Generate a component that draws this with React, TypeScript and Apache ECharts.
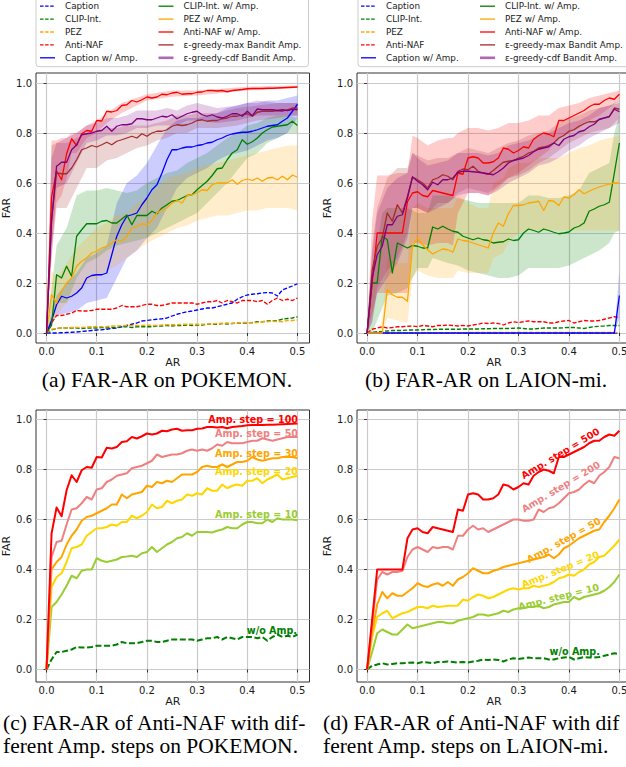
import React, { useEffect, useRef } from "react";
import * as echarts from "echarts";

// ---------- sample grid & ticks ----------
const AR: number[] = Array.from({ length: 51 }, (_, i) => i / 100);
const X_TICKS = [0, 0.1, 0.2, 0.3, 0.4, 0.5];
const Y_TICKS = [0, 0.2, 0.4, 0.6, 0.8, 1.0];

// ---------- POKEMON (panel a / c) ----------
const POK_CAPTION = [0, 0, 0, 0.001, 0.002, 0.003, 0.004, 0.006, 0.008, 0.01,
  0.012, 0.013, 0.015, 0.018, 0.02, 0.025, 0.03, 0.035, 0.04, 0.048,
  0.05, 0.053, 0.055, 0.057, 0.06, 0.068, 0.075, 0.08, 0.085, 0.088,
  0.092, 0.096, 0.1, 0.1, 0.105, 0.11, 0.115, 0.12, 0.135, 0.145,
  0.152, 0.155, 0.157, 0.16, 0.162, 0.16, 0.148, 0.172, 0.18, 0.188, 0.197];
const POK_CLIP = [0, 0.012, 0.018, 0.02, 0.02, 0.02, 0.02, 0.018, 0.02, 0.02,
  0.02, 0.022, 0.02, 0.022, 0.022, 0.025, 0.025, 0.022, 0.025, 0.025,
  0.025, 0.025, 0.028, 0.028, 0.03, 0.028, 0.03, 0.03, 0.032, 0.03,
  0.032, 0.032, 0.035, 0.035, 0.035, 0.038, 0.036, 0.038, 0.04, 0.04,
  0.04, 0.042, 0.045, 0.045, 0.048, 0.048, 0.05, 0.055, 0.058, 0.06, 0.065];
const POK_PEZ = [0, 0.015, 0.018, 0.02, 0.02, 0.022, 0.022, 0.022, 0.024, 0.025,
  0.026, 0.025, 0.026, 0.028, 0.028, 0.03, 0.03, 0.03, 0.03, 0.03,
  0.032, 0.03, 0.03, 0.032, 0.033, 0.033, 0.033, 0.035, 0.035, 0.035,
  0.035, 0.035, 0.036, 0.036, 0.038, 0.038, 0.04, 0.038, 0.04, 0.042,
  0.042, 0.04, 0.042, 0.045, 0.045, 0.047, 0.046, 0.045, 0.05, 0.05, 0.052];
// Anti-NAF without amplification (= "w/o Amp." in panel c)
const POK_NOAMP = [0, 0.04, 0.07, 0.07, 0.075, 0.08, 0.09, 0.088, 0.088, 0.09,
  0.095, 0.095, 0.095, 0.095, 0.1, 0.11, 0.105, 0.105, 0.105, 0.11,
  0.115, 0.115, 0.11, 0.11, 0.115, 0.12, 0.12, 0.12, 0.12, 0.12,
  0.115, 0.12, 0.125, 0.125, 0.13, 0.12, 0.13, 0.125, 0.12, 0.13,
  0.13, 0.13, 0.125, 0.13, 0.115, 0.13, 0.14, 0.13, 0.135, 0.13, 0.14];
const POK_CAPTION_AMP = [0, 0.05, 0.113, 0.147, 0.14, 0.147, 0.16, 0.18, 0.22, 0.23,
  0.233, 0.233, 0.24, 0.313, 0.387, 0.433, 0.467, 0.473, 0.48, 0.513,
  0.54, 0.573, 0.593, 0.64, 0.693, 0.733, 0.733, 0.74, 0.744, 0.744,
  0.75, 0.753, 0.76, 0.763, 0.773, 0.78, 0.79, 0.796, 0.8, 0.803,
  0.803, 0.807, 0.813, 0.82, 0.827, 0.83, 0.833, 0.847, 0.86, 0.887, 0.915];
const POK_CLIP_AMP = [0, 0.03, 0.233, 0.22, 0.267, 0.227, 0.387, 0.413, 0.437, 0.437,
  0.437, 0.447, 0.45, 0.44, 0.44, 0.456, 0.472, 0.433, 0.47, 0.47,
  0.47, 0.487, 0.477, 0.5, 0.513, 0.527, 0.53, 0.54, 0.55, 0.553,
  0.573, 0.59, 0.607, 0.63, 0.657, 0.66, 0.693, 0.72, 0.733, 0.773,
  0.755, 0.765, 0.78, 0.8, 0.813, 0.824, 0.827, 0.83, 0.833, 0.847, 0.83];
const POK_PEZ_AMP = [0, 0.153, 0.12, 0.167, 0.2, 0.22, 0.267, 0.287, 0.3, 0.32,
  0.327, 0.34, 0.347, 0.36, 0.373, 0.367, 0.387, 0.42, 0.427, 0.437,
  0.433, 0.45, 0.48, 0.493, 0.5, 0.52, 0.53, 0.52, 0.55, 0.553,
  0.56, 0.573, 0.57, 0.593, 0.6, 0.6, 0.6, 0.613, 0.595, 0.61,
  0.616, 0.61, 0.62, 0.607, 0.62, 0.622, 0.613, 0.627, 0.613, 0.632, 0.623];
// Anti-NAF with Amp. (= "Amp. step = 100" in panel c)
const POK_AMP100 = [0, 0.544, 0.648, 0.613, 0.717, 0.777, 0.75, 0.797, 0.81, 0.807,
  0.85, 0.848, 0.887, 0.884, 0.89, 0.91, 0.913, 0.93, 0.924, 0.933,
  0.944, 0.94, 0.944, 0.955, 0.953, 0.96, 0.963, 0.955, 0.957, 0.957,
  0.963, 0.964, 0.97, 0.97, 0.968, 0.97, 0.965, 0.97, 0.972, 0.974,
  0.977, 0.978, 0.978, 0.978, 0.979, 0.979, 0.98, 0.981, 0.982, 0.983, 0.984];
const POK_EPS_MAX = [0, 0.45, 0.64, 0.637, 0.637, 0.66, 0.693, 0.733, 0.74, 0.75,
  0.744, 0.753, 0.763, 0.753, 0.767, 0.773, 0.78, 0.787, 0.78, 0.797,
  0.787, 0.8, 0.807, 0.807, 0.813, 0.827, 0.833, 0.83, 0.833, 0.84,
  0.85, 0.853, 0.847, 0.85, 0.85, 0.857, 0.86, 0.867, 0.867, 0.873,
  0.877, 0.867, 0.883, 0.887, 0.887, 0.887, 0.89, 0.887, 0.893, 0.9, 0.9];
const POK_EPS_CDF = [0, 0.45, 0.667, 0.683, 0.683, 0.733, 0.753, 0.793, 0.797, 0.8,
  0.807, 0.81, 0.827, 0.807, 0.827, 0.833, 0.833, 0.837, 0.857, 0.857,
  0.853, 0.853, 0.86, 0.867, 0.864, 0.873, 0.857, 0.867, 0.877, 0.883,
  0.887, 0.873, 0.867, 0.873, 0.864, 0.86, 0.867, 0.877, 0.877, 0.867,
  0.887, 0.869, 0.896, 0.893, 0.893, 0.893, 0.89, 0.893, 0.89, 0.895, 0.893];
const POK_AMP50 = [0, 0.45, 0.51, 0.515, 0.58, 0.64, 0.645, 0.665, 0.69, 0.68,
  0.72, 0.725, 0.75, 0.76, 0.775, 0.78, 0.785, 0.805, 0.81, 0.815,
  0.825, 0.835, 0.86, 0.85, 0.855, 0.86, 0.86, 0.865, 0.875, 0.88,
  0.875, 0.88, 0.875, 0.885, 0.9, 0.895, 0.91, 0.905, 0.905, 0.905,
  0.91, 0.915, 0.915, 0.925, 0.92, 0.915, 0.92, 0.925, 0.93, 0.93, 0.93];
const POK_AMP30 = [0, 0.4, 0.43, 0.45, 0.5, 0.535, 0.56, 0.595, 0.61, 0.615,
  0.625, 0.635, 0.645, 0.66, 0.66, 0.7, 0.685, 0.7, 0.705, 0.71,
  0.735, 0.73, 0.75, 0.745, 0.755, 0.75, 0.765, 0.78, 0.78, 0.78,
  0.79, 0.81, 0.815, 0.81, 0.81, 0.82, 0.81, 0.82, 0.83, 0.83,
  0.835, 0.85, 0.84, 0.835, 0.84, 0.845, 0.845, 0.85, 0.85, 0.85, 0.845];
const POK_AMP20 = [0, 0.33, 0.37, 0.385, 0.43, 0.485, 0.49, 0.5, 0.535, 0.55,
  0.565, 0.565, 0.57, 0.58, 0.575, 0.59, 0.59, 0.615, 0.605, 0.615,
  0.63, 0.66, 0.645, 0.65, 0.675, 0.665, 0.675, 0.68, 0.7, 0.695,
  0.705, 0.7, 0.725, 0.715, 0.715, 0.74, 0.725, 0.735, 0.74, 0.735,
  0.755, 0.755, 0.765, 0.745, 0.76, 0.77, 0.78, 0.76, 0.765, 0.77, 0.775];
const POK_AMP10 = [0, 0.25, 0.27, 0.3, 0.335, 0.375, 0.365, 0.395, 0.4, 0.4,
  0.445, 0.435, 0.43, 0.435, 0.44, 0.45, 0.452, 0.455, 0.45, 0.465,
  0.47, 0.49, 0.47, 0.485, 0.5, 0.51, 0.525, 0.53, 0.545, 0.535,
  0.55, 0.55, 0.55, 0.548, 0.555, 0.56, 0.57, 0.565, 0.565, 0.58,
  0.59, 0.59, 0.585, 0.585, 0.6, 0.59, 0.605, 0.6, 0.6, 0.6, 0.597];

// bands [AR, low, high] for panel a
const POK_BAND_CAPTION = [[0, 0, 0], [0.02, 0.07, 0.15], [0.04, 0.08, 0.2], [0.06, 0.09, 0.24], [0.08, 0.12, 0.3], [0.1, 0.13, 0.32], [0.12, 0.14, 0.35], [0.14, 0.22, 0.52], [0.16, 0.3, 0.6], [0.18, 0.33, 0.63], [0.2, 0.38, 0.68], [0.22, 0.42, 0.75], [0.24, 0.5, 0.82], [0.26, 0.58, 0.85], [0.28, 0.62, 0.86], [0.3, 0.64, 0.86], [0.32, 0.66, 0.87], [0.34, 0.69, 0.88], [0.36, 0.71, 0.9], [0.38, 0.72, 0.91], [0.4, 0.73, 0.92], [0.42, 0.75, 0.92], [0.44, 0.77, 0.93], [0.46, 0.78, 0.93], [0.48, 0.8, 0.94], [0.5, 0.86, 0.95]];
const POK_BAND_CLIP = [[0, 0, 0], [0.02, 0.12, 0.35], [0.04, 0.12, 0.42], [0.06, 0.22, 0.55], [0.08, 0.28, 0.57], [0.1, 0.3, 0.57], [0.12, 0.33, 0.58], [0.14, 0.35, 0.57], [0.16, 0.36, 0.56], [0.18, 0.37, 0.57], [0.2, 0.38, 0.6], [0.22, 0.4, 0.62], [0.24, 0.42, 0.64], [0.26, 0.44, 0.65], [0.28, 0.46, 0.68], [0.3, 0.48, 0.7], [0.32, 0.52, 0.72], [0.34, 0.56, 0.75], [0.36, 0.6, 0.78], [0.38, 0.65, 0.8], [0.4, 0.7, 0.83], [0.42, 0.72, 0.84], [0.44, 0.76, 0.86], [0.46, 0.78, 0.87], [0.48, 0.8, 0.87], [0.5, 0.8, 0.86]];
const POK_BAND_PEZ = [[0, 0, 0], [0.01, 0.05, 0.25], [0.02, 0.07, 0.22], [0.04, 0.12, 0.28], [0.06, 0.16, 0.34], [0.08, 0.2, 0.38], [0.1, 0.22, 0.42], [0.12, 0.25, 0.44], [0.14, 0.27, 0.47], [0.16, 0.3, 0.48], [0.18, 0.33, 0.52], [0.2, 0.36, 0.54], [0.22, 0.38, 0.58], [0.24, 0.4, 0.62], [0.26, 0.42, 0.63], [0.28, 0.43, 0.64], [0.3, 0.45, 0.66], [0.32, 0.46, 0.67], [0.34, 0.47, 0.68], [0.36, 0.47, 0.69], [0.38, 0.48, 0.7], [0.4, 0.49, 0.71], [0.42, 0.49, 0.72], [0.44, 0.5, 0.73], [0.46, 0.5, 0.74], [0.48, 0.5, 0.75], [0.5, 0.49, 0.75]];
const POK_BAND_ANTI = [[0, 0, 0], [0.01, 0.35, 0.77], [0.02, 0.52, 0.77], [0.03, 0.55, 0.78], [0.04, 0.62, 0.78], [0.05, 0.72, 0.8], [0.06, 0.72, 0.8], [0.08, 0.78, 0.83], [0.1, 0.8, 0.85], [0.12, 0.84, 0.88], [0.15, 0.88, 0.92], [0.2, 0.93, 0.955], [0.25, 0.945, 0.97], [0.3, 0.95, 0.97], [0.4, 0.97, 0.985], [0.5, 0.98, 0.99]];
const POK_BAND_MAX = [[0, 0, 0], [0.01, 0.3, 0.75], [0.02, 0.5, 0.76], [0.04, 0.5, 0.76], [0.06, 0.58, 0.78], [0.08, 0.66, 0.8], [0.1, 0.66, 0.81], [0.12, 0.69, 0.82], [0.14, 0.7, 0.82], [0.16, 0.72, 0.83], [0.18, 0.74, 0.83], [0.2, 0.75, 0.83], [0.22, 0.77, 0.84], [0.24, 0.78, 0.85], [0.26, 0.8, 0.87], [0.28, 0.8, 0.87], [0.3, 0.82, 0.88], [0.34, 0.82, 0.88], [0.38, 0.83, 0.9], [0.42, 0.85, 0.91], [0.46, 0.86, 0.92], [0.5, 0.87, 0.92]];
const POK_BAND_CDF = [[0, 0, 0], [0.01, 0.3, 0.7], [0.02, 0.58, 0.76], [0.04, 0.6, 0.78], [0.06, 0.68, 0.8], [0.08, 0.76, 0.83], [0.1, 0.77, 0.84], [0.12, 0.79, 0.86], [0.14, 0.79, 0.86], [0.16, 0.8, 0.87], [0.18, 0.82, 0.89], [0.2, 0.82, 0.89], [0.22, 0.83, 0.89], [0.24, 0.83, 0.9], [0.26, 0.83, 0.89], [0.28, 0.85, 0.91], [0.3, 0.85, 0.92], [0.34, 0.84, 0.9], [0.38, 0.85, 0.91], [0.42, 0.87, 0.93], [0.46, 0.87, 0.92], [0.5, 0.87, 0.92]];

// ---------- LAION-mi (panel b / d) ----------
const LAI_CAPTION = [0, 0, 0, 0, 0, 0, 0, 0, 0, 0,
  0, 0, 0, 0, 0, 0, 0, 0, 0, 0,
  0, 0, 0, 0, 0, 0, 0, 0, 0, 0,
  0, 0, 0, 0, 0, 0, 0, 0, 0, 0,
  0, 0, 0, 0, 0, 0, 0, 0, 0, 0, 0];
const LAI_CLIP = [0, 0.003, 0.005, 0.006, 0.008, 0.01, 0.01, 0.01, 0.012, 0.012,
  0.012, 0.013, 0.014, 0.014, 0.015, 0.015, 0.015, 0.015, 0.015, 0.016,
  0.016, 0.016, 0.016, 0.017, 0.017, 0.018, 0.018, 0.018, 0.018, 0.019,
  0.02, 0.018, 0.016, 0.016, 0.018, 0.02, 0.02, 0.02, 0.02, 0.021,
  0.022, 0.022, 0.02, 0.018, 0.022, 0.025, 0.027, 0.028, 0.03, 0.03, 0.03];
const LAI_PEZ = [0, 0, 0, 0.001, 0.001, 0.001, 0.001, 0.001, 0.001, 0.001,
  0.001, 0.001, 0.001, 0.001, 0.001, 0.001, 0.001, 0.001, 0.001, 0.001,
  0.002, 0.002, 0.002, 0.002, 0.002, 0.002, 0.002, 0.002, 0.002, 0.002,
  0.002, 0.002, 0.002, 0.002, 0.002, 0.002, 0.002, 0.002, 0.002, 0.002,
  0.002, 0.002, 0.002, 0.002, 0.002, 0.002, 0.002, 0.002, 0.002, 0.002, 0.003];
const LAI_NOAMP = [0, 0.015, 0.02, 0.025, 0.02, 0.022, 0.025, 0.025, 0.027, 0.028,
  0.025, 0.03, 0.028, 0.025, 0.03, 0.03, 0.032, 0.03, 0.028, 0.03,
  0.028, 0.032, 0.035, 0.04, 0.038, 0.04, 0.038, 0.032, 0.04, 0.045,
  0.042, 0.045, 0.048, 0.045, 0.045, 0.045, 0.04, 0.04, 0.045, 0.048,
  0.05, 0.04, 0.045, 0.05, 0.048, 0.048, 0.05, 0.055, 0.06, 0.065, 0.062];
const LAI_CAPTION_AMP = [0, 0, 0, 0, 0, 0, 0, 0, 0, 0,
  0, 0, 0, 0, 0, 0, 0, 0, 0, 0,
  0, 0, 0, 0, 0, 0, 0, 0, 0, 0,
  0, 0, 0, 0, 0, 0, 0, 0, 0, 0,
  0, 0, 0, 0, 0, 0, 0, 0, 0, 0, 0.15];
const LAI_CLIP_AMP = [0, 0.2, 0.2, 0.387, 0.373, 0.24, 0.36, 0.35, 0.34, 0.35,
  0.347, 0.34, 0.34, 0.424, 0.416, 0.427, 0.416, 0.407, 0.403, 0.387,
  0.38, 0.373, 0.38, 0.373, 0.37, 0.36, 0.363, 0.365, 0.376, 0.37,
  0.373, 0.4, 0.416, 0.41, 0.403, 0.416, 0.41, 0.403, 0.397, 0.4,
  0.404, 0.42, 0.427, 0.44, 0.487, 0.496, 0.507, 0.513, 0.523, 0.64, 0.76];
const LAI_PEZ_AMP = [0, 0, 0, 0, 0.173, 0.153, 0.143, 0.143, 0.127, 0.347,
  0.38, 0.353, 0.333, 0.316, 0.327, 0.336, 0.333, 0.323, 0.376, 0.37,
  0.367, 0.36, 0.353, 0.347, 0.34, 0.4, 0.44, 0.427, 0.477, 0.51,
  0.51, 0.513, 0.52, 0.523, 0.527, 0.49, 0.53, 0.527, 0.51, 0.544,
  0.54, 0.553, 0.573, 0.557, 0.567, 0.576, 0.584, 0.59, 0.596, 0.6, 0.6];
// Anti-NAF with Amp. (= "Amp. step = 500" in panel d)
const LAI_AMP500 = [0, 0.2, 0.4, 0.4, 0.4, 0.4, 0.4, 0.4, 0.525, 0.56,
  0.565, 0.55, 0.545, 0.57, 0.565, 0.56, 0.555, 0.55, 0.64, 0.635,
  0.7, 0.705, 0.7, 0.68, 0.68, 0.685, 0.7, 0.74, 0.735, 0.72,
  0.73, 0.745, 0.74, 0.775, 0.79, 0.8, 0.795, 0.785, 0.85, 0.85,
  0.86, 0.87, 0.88, 0.89, 0.905, 0.915, 0.915, 0.93, 0.94, 0.935, 0.955];
const LAI_EPS_MAX = [0, 0.25, 0.347, 0.38, 0.48, 0.447, 0.513, 0.48, 0.547, 0.624,
  0.613, 0.6, 0.58, 0.613, 0.62, 0.633, 0.627, 0.613, 0.647, 0.656,
  0.653, 0.667, 0.647, 0.64, 0.635, 0.65, 0.667, 0.683, 0.687, 0.69,
  0.7, 0.707, 0.72, 0.727, 0.74, 0.744, 0.75, 0.76, 0.78, 0.79,
  0.807, 0.813, 0.827, 0.837, 0.845, 0.845, 0.853, 0.86, 0.867, 0.9, 0.895];
const LAI_EPS_CDF = [0, 0.22, 0.313, 0.347, 0.433, 0.433, 0.467, 0.473, 0.54, 0.624,
  0.607, 0.593, 0.573, 0.603, 0.593, 0.613, 0.613, 0.62, 0.643, 0.647,
  0.647, 0.645, 0.643, 0.64, 0.637, 0.633, 0.645, 0.66, 0.68, 0.69,
  0.695, 0.7, 0.71, 0.725, 0.735, 0.74, 0.745, 0.76, 0.75, 0.775,
  0.785, 0.79, 0.805, 0.81, 0.825, 0.835, 0.855, 0.86, 0.865, 0.895, 0.885];
const LAI_AMP200 = [0, 0.18, 0.36, 0.39, 0.38, 0.39, 0.39, 0.395, 0.45, 0.48,
  0.49, 0.48, 0.47, 0.49, 0.485, 0.49, 0.49, 0.48, 0.535, 0.535,
  0.56, 0.575, 0.56, 0.565, 0.55, 0.56, 0.57, 0.58, 0.59, 0.6,
  0.6, 0.595, 0.595, 0.6, 0.64, 0.63, 0.645, 0.65, 0.665, 0.685,
  0.705, 0.71, 0.72, 0.74, 0.755, 0.745, 0.775, 0.79, 0.81, 0.85, 0.845];
const LAI_AMP50 = [0, 0.15, 0.26, 0.31, 0.285, 0.305, 0.295, 0.295, 0.31, 0.325,
  0.345, 0.335, 0.33, 0.34, 0.345, 0.335, 0.35, 0.335, 0.36, 0.37,
  0.385, 0.405, 0.395, 0.385, 0.385, 0.395, 0.4, 0.41, 0.415, 0.42,
  0.425, 0.43, 0.435, 0.44, 0.445, 0.45, 0.46, 0.445, 0.46, 0.485,
  0.495, 0.51, 0.525, 0.535, 0.545, 0.555, 0.56, 0.59, 0.615, 0.645, 0.68];
const LAI_AMP20 = [0, 0.13, 0.21, 0.225, 0.235, 0.205, 0.215, 0.225, 0.23, 0.24,
  0.25, 0.25, 0.245, 0.255, 0.25, 0.252, 0.255, 0.255, 0.256, 0.28,
  0.275, 0.29, 0.3, 0.295, 0.285, 0.29, 0.3, 0.31, 0.32, 0.325,
  0.32, 0.325, 0.325, 0.335, 0.33, 0.335, 0.34, 0.35, 0.365, 0.37,
  0.38, 0.375, 0.39, 0.4, 0.42, 0.43, 0.45, 0.455, 0.475, 0.495, 0.52];
const LAI_AMP10 = [0, 0.07, 0.145, 0.16, 0.15, 0.14, 0.14, 0.16, 0.18, 0.165,
  0.17, 0.175, 0.18, 0.185, 0.19, 0.19, 0.185, 0.185, 0.195, 0.2,
  0.205, 0.21, 0.22, 0.22, 0.215, 0.22, 0.225, 0.235, 0.23, 0.24,
  0.245, 0.245, 0.25, 0.25, 0.255, 0.245, 0.25, 0.26, 0.265, 0.27,
  0.27, 0.29, 0.28, 0.29, 0.295, 0.3, 0.305, 0.315, 0.33, 0.35, 0.38];

// bands [AR, low, high] for panel b
const LAI_BAND_CAPTION = [[0, 0, 0], [0.49, 0, 0], [0.5, 0.06, 0.25]];
const LAI_BAND_CLIP = [[0, 0, 0], [0.01, 0, 0.22], [0.02, 0.05, 0.35], [0.03, 0.1, 0.48], [0.04, 0.15, 0.5], [0.06, 0.16, 0.5], [0.08, 0.18, 0.5], [0.1, 0.26, 0.48], [0.12, 0.26, 0.48], [0.13, 0.3, 0.55], [0.16, 0.28, 0.55], [0.18, 0.27, 0.54], [0.2, 0.25, 0.53], [0.22, 0.24, 0.52], [0.24, 0.23, 0.52], [0.26, 0.22, 0.52], [0.28, 0.22, 0.52], [0.3, 0.23, 0.52], [0.32, 0.26, 0.55], [0.34, 0.26, 0.55], [0.36, 0.26, 0.54], [0.38, 0.26, 0.54], [0.4, 0.27, 0.55], [0.42, 0.29, 0.57], [0.44, 0.31, 0.64], [0.46, 0.33, 0.66], [0.48, 0.36, 0.68], [0.49, 0.4, 0.8], [0.5, 0.41, 0.87]];
const LAI_BAND_PEZ = [[0, 0, 0], [0.02, 0, 0], [0.03, 0, 0.05], [0.04, 0.06, 0.3], [0.06, 0.05, 0.28], [0.08, 0.04, 0.28], [0.09, 0.22, 0.5], [0.1, 0.25, 0.52], [0.12, 0.23, 0.5], [0.14, 0.22, 0.5], [0.17, 0.22, 0.5], [0.18, 0.25, 0.55], [0.2, 0.24, 0.52], [0.22, 0.24, 0.5], [0.24, 0.24, 0.5], [0.25, 0.3, 0.6], [0.27, 0.32, 0.62], [0.28, 0.36, 0.66], [0.3, 0.4, 0.68], [0.32, 0.41, 0.68], [0.34, 0.41, 0.7], [0.38, 0.41, 0.7], [0.4, 0.41, 0.72], [0.42, 0.41, 0.74], [0.44, 0.41, 0.75], [0.46, 0.41, 0.77], [0.48, 0.41, 0.78], [0.5, 0.41, 0.79]];
const LAI_BAND_ANTI = [[0, 0, 0], [0.01, 0.08, 0.45], [0.02, 0.16, 0.63], [0.04, 0.16, 0.63], [0.06, 0.16, 0.64], [0.08, 0.16, 0.64], [0.09, 0.36, 0.79], [0.1, 0.36, 0.78], [0.12, 0.35, 0.75], [0.14, 0.36, 0.77], [0.16, 0.36, 0.78], [0.17, 0.35, 0.78], [0.18, 0.48, 0.8], [0.2, 0.56, 0.82], [0.22, 0.56, 0.82], [0.24, 0.55, 0.81], [0.26, 0.58, 0.82], [0.28, 0.62, 0.84], [0.3, 0.64, 0.84], [0.32, 0.67, 0.85], [0.34, 0.7, 0.87], [0.36, 0.73, 0.87], [0.38, 0.78, 0.9], [0.4, 0.8, 0.91], [0.42, 0.82, 0.92], [0.44, 0.85, 0.94], [0.46, 0.87, 0.95], [0.48, 0.9, 0.96], [0.5, 0.93, 0.97]];
const LAI_BAND_MAX = [[0, 0, 0], [0.01, 0.05, 0.35], [0.02, 0.18, 0.5], [0.04, 0.25, 0.62], [0.06, 0.3, 0.66], [0.08, 0.4, 0.66], [0.09, 0.5, 0.72], [0.1, 0.5, 0.71], [0.12, 0.48, 0.69], [0.14, 0.52, 0.7], [0.16, 0.52, 0.7], [0.18, 0.56, 0.72], [0.2, 0.58, 0.74], [0.22, 0.57, 0.73], [0.24, 0.56, 0.72], [0.26, 0.59, 0.74], [0.28, 0.62, 0.76], [0.3, 0.63, 0.77], [0.32, 0.65, 0.79], [0.34, 0.68, 0.8], [0.36, 0.7, 0.81], [0.38, 0.73, 0.84], [0.4, 0.76, 0.86], [0.42, 0.78, 0.87], [0.44, 0.8, 0.89], [0.46, 0.81, 0.9], [0.48, 0.82, 0.91], [0.5, 0.86, 0.93]];
const LAI_BAND_CDF = [[0, 0, 0], [0.01, 0.04, 0.32], [0.02, 0.16, 0.48], [0.04, 0.22, 0.58], [0.06, 0.28, 0.62], [0.08, 0.38, 0.64], [0.09, 0.5, 0.72], [0.1, 0.5, 0.7], [0.12, 0.48, 0.67], [0.14, 0.5, 0.68], [0.16, 0.52, 0.69], [0.18, 0.55, 0.72], [0.2, 0.56, 0.72], [0.22, 0.56, 0.72], [0.24, 0.55, 0.71], [0.26, 0.57, 0.72], [0.28, 0.6, 0.75], [0.3, 0.62, 0.76], [0.32, 0.64, 0.77], [0.34, 0.67, 0.79], [0.36, 0.68, 0.8], [0.38, 0.7, 0.82], [0.4, 0.73, 0.84], [0.42, 0.75, 0.85], [0.44, 0.78, 0.87], [0.46, 0.8, 0.9], [0.48, 0.82, 0.91], [0.5, 0.84, 0.92]];

// ---------- styling ----------
const COL = {
  blue: "#0000ff", green: "#008000", orange: "#ffa500", red: "#ff0000",
  brown: "#a52a2a", purple: "#800080", salmon: "#f08080", gold: "#ffd700", ygreen: "#9acd32",
};
const TICK_FONT = "DejaVu Sans";
const SERIF = "Liberation Serif";

function rgba(hex: string, a: number) {
  const n = parseInt(hex.slice(1), 16);
  return `rgba(${(n >> 16) & 255},${(n >> 8) & 255},${n & 255},${a})`;
}

const PANELS = [
  { left: 36, top: 73, width: 273.5, height: 270, xmin: -0.021, xmax: 0.524, ymin: -0.04, ymax: 1.04, nameGap: 9 },
  { left: 357, top: 73, width: 274, height: 270, xmin: -0.02, xmax: 0.523, ymin: -0.04, ymax: 1.04, nameGap: 9 },
  { left: 36, top: 410, width: 273.5, height: 272, xmin: -0.021, xmax: 0.524, ymin: -0.05, ymax: 1.038, nameGap: 12 },
  { left: 357, top: 410, width: 274, height: 272, xmin: -0.02, xmax: 0.523, ymin: -0.05, ymax: 1.038, nameGap: 12 },
];

function lineS(g: number, vals: number[], color: string, width: number, dash: number[] | null) {
  return {
    type: "line", xAxisIndex: g, yAxisIndex: g, silent: true, z: 3,
    data: AR.map((x, i) => [x, vals[i]]),
    symbol: "none", showSymbol: false,
    lineStyle: { color, width, type: dash ? dash : "solid", cap: "butt", join: "round" },
    emphasis: { disabled: true },
  };
}

function bandS(g: number, pts: number[][], color: string) {
  return {
    type: "custom", xAxisIndex: g, yAxisIndex: g, silent: true, z: 1,
    data: pts, encode: { x: 0, y: [1, 2] },
    renderItem: (params: any, api: any) => {
      if (params.dataIndex !== 0) return null;
      const up = pts.map((p) => api.coord([p[0], p[2]]));
      const lo = pts.map((p) => api.coord([p[0], p[1]])).reverse();
      return { type: "polygon", shape: { points: up.concat(lo) }, style: { fill: rgba(color, 0.2) } };
    },
  };
}

const DASH_S = [4.2, 1.8];
const DASH_L = [6, 2.6];

function buildOption() {
  const series: any[] = [];
  // panel a
  series.push(bandS(0, POK_BAND_CAPTION, COL.blue), bandS(0, POK_BAND_CLIP, COL.green), bandS(0, POK_BAND_PEZ, COL.orange),
    bandS(0, POK_BAND_ANTI, COL.red), bandS(0, POK_BAND_MAX, COL.brown), bandS(0, POK_BAND_CDF, COL.purple));
  series.push(lineS(0, POK_CAPTION, COL.blue, 1.3, DASH_S), lineS(0, POK_CLIP, COL.green, 1.3, DASH_S),
    lineS(0, POK_PEZ, COL.orange, 1.3, DASH_S), lineS(0, POK_NOAMP, COL.red, 1.3, DASH_S),
    lineS(0, POK_CAPTION_AMP, COL.blue, 1.3, null), lineS(0, POK_CLIP_AMP, COL.green, 1.3, null),
    lineS(0, POK_PEZ_AMP, COL.orange, 1.3, null), lineS(0, POK_AMP100, COL.red, 1.3, null),
    lineS(0, POK_EPS_MAX, COL.brown, 1.3, null), lineS(0, POK_EPS_CDF, COL.purple, 1.3, null));
  // panel b
  series.push(bandS(1, LAI_BAND_CAPTION, COL.blue), bandS(1, LAI_BAND_CLIP, COL.green), bandS(1, LAI_BAND_PEZ, COL.orange),
    bandS(1, LAI_BAND_ANTI, COL.red), bandS(1, LAI_BAND_MAX, COL.brown), bandS(1, LAI_BAND_CDF, COL.purple));
  series.push(lineS(1, LAI_CAPTION, COL.blue, 1.3, DASH_S), lineS(1, LAI_CLIP, COL.green, 1.3, DASH_S),
    lineS(1, LAI_PEZ, COL.orange, 1.3, DASH_S), lineS(1, LAI_NOAMP, COL.red, 1.3, DASH_S),
    lineS(1, LAI_CAPTION_AMP, COL.blue, 1.3, null), lineS(1, LAI_CLIP_AMP, COL.green, 1.3, null),
    lineS(1, LAI_PEZ_AMP, COL.orange, 1.3, null), lineS(1, LAI_AMP500, COL.red, 1.3, null),
    lineS(1, LAI_EPS_MAX, COL.brown, 1.3, null), lineS(1, LAI_EPS_CDF, COL.purple, 1.3, null));
  // panel c
  series.push(lineS(2, POK_NOAMP, COL.green, 2, DASH_L), lineS(2, POK_AMP10, COL.ygreen, 2, null),
    lineS(2, POK_AMP20, COL.gold, 2, null), lineS(2, POK_AMP30, COL.orange, 2, null),
    lineS(2, POK_AMP50, COL.salmon, 2, null), lineS(2, POK_AMP100, COL.red, 2, null));
  // panel d
  series.push(lineS(3, LAI_NOAMP, COL.green, 2, DASH_L), lineS(3, LAI_AMP10, COL.ygreen, 2, null),
    lineS(3, LAI_AMP20, COL.gold, 2, null), lineS(3, LAI_AMP50, COL.orange, 2, null),
    lineS(3, LAI_AMP200, COL.salmon, 2, null), lineS(3, LAI_AMP500, COL.red, 2, null));

  const fmt = (v: number) => v.toFixed(1);
  const axisText = { fontSize: 10, color: "#1a1a1a", fontFamily: TICK_FONT };
  const nameText = { fontSize: 11, color: "#1a1a1a", fontFamily: TICK_FONT, lineHeight: 11 };

  const grid = PANELS.map((p) => ({
    left: p.left, top: p.top, width: p.width, height: p.height,
    show: true, borderColor: "#333", borderWidth: 1, backgroundColor: "transparent",
    containLabel: false, outerBoundsMode: "none",
  }));
  const xAxis = PANELS.map((p, i) => ({
    type: "value", gridIndex: i, min: p.xmin, max: p.xmax,
    axisLine: { show: false },
    axisTick: { show: true, length: 3, lineStyle: { color: "#333", width: 1 }, customValues: X_TICKS },
    axisLabel: { ...axisText, customValues: X_TICKS, formatter: fmt, margin: 3 },
    splitLine: { show: true, lineStyle: { color: "#cbcbcb", width: 1.2 } },
    name: "AR", nameLocation: "middle", nameGap: p.nameGap, nameTextStyle: nameText,
  }));
  const yAxis = PANELS.map((p, i) => ({
    type: "value", gridIndex: i, min: p.ymin, max: p.ymax,
    axisLine: { show: false },
    axisTick: { show: true, length: 3, lineStyle: { color: "#333", width: 1 }, customValues: Y_TICKS },
    axisLabel: { ...axisText, customValues: Y_TICKS, formatter: fmt, margin: 4 },
    splitLine: { show: true, lineStyle: { color: "#cbcbcb", width: 1.2 } },
    name: "FAR", nameLocation: "middle", nameGap: 19, nameTextStyle: nameText,
  }));

  // ---------- legends (graphic) ----------
  const legLeft = [
    { name: "Caption", color: COL.blue, dash: true },
    { name: "CLIP-Int.", color: COL.green, dash: true },
    { name: "PEZ", color: COL.orange, dash: true },
    { name: "Anti-NAF", color: COL.red, dash: true },
    { name: "Caption w/ Amp.", color: COL.blue, dash: false },
  ];
  const legRight = [
    { name: "CLIP-Int. w/ Amp.", color: COL.green, dash: false },
    { name: "PEZ w/ Amp.", color: COL.orange, dash: false },
    { name: "Anti-NAF w/ Amp.", color: COL.red, dash: false },
    { name: "ε-greedy-max Bandit Amp.", color: COL.brown, dash: false },
    { name: "ε-greedy-cdf Bandit Amp.", color: "rgba(128,0,128,0.6)", dash: false, w: 2.6 },
  ];
  const rowsY = [6.2, 19.1, 32, 44.9, 57.8];
  const graphic: any[] = [];
  const addLegend = (boxX: number, boxW: number, c1: number, c2: number) => {
    graphic.push({ type: "rect", z: 10, shape: { x: boxX, y: -6, width: boxW, height: 72.7, r: 3 },
      style: { fill: "rgba(255,255,255,0.8)", stroke: "#cccccc", lineWidth: 1 } });
    [[legLeft, c1], [legRight, c2]].forEach(([items, x0]: any) => {
      items.forEach((it: any, k: number) => {
        graphic.push({ type: "line", z: 11, shape: { x1: x0, y1: rowsY[k], x2: x0 + 15, y2: rowsY[k] },
          style: { stroke: it.color, lineWidth: it.w || 1.3, lineDash: it.dash ? [3.5, 1.6] : null } });
        graphic.push({ type: "text", z: 11, x: x0 + 25, y: rowsY[k],
          style: { text: it.name, fill: "#1a1a1a", fontSize: 8.8, fontFamily: TICK_FONT, verticalAlign: "middle", align: "left" } });
      });
    });
  };
  addLegend(36, 272.5, 40, 158.5);
  addLegend(358, 280, 361, 480);

  // ---------- captions ----------
  const cap = (text: string, x: number, y: number, align: string) => ({
    type: "text", z: 12, x, y,
    style: { text, fill: "#000", fontSize: 21.5, lineHeight: 20, fontFamily: SERIF, align, verticalAlign: "middle" },
  });
  graphic.push(cap("(a) FAR-AR on POKEMON.", 167, 380, "center"));
  graphic.push(cap("(b) FAR-AR on LAION-mi.", 486, 380, "center"));
  graphic.push(cap("(c) FAR-AR of Anti-NAF with dif-", 3, 723, "left"));
  graphic.push(cap("ferent Amp. steps on POKEMON.", 3, 746, "left"));
  graphic.push(cap("(d) FAR-AR of Anti-NAF with dif", 323, 723, "left"));
  graphic.push(cap("ferent Amp. steps on LAION-mi.", 323, 746, "left"));

  // ---------- annotations panel c ----------
  const ann = (text: string, color: string, x: number, y: number, align: string, rotDeg = 0) => ({
    type: "text", z: 12, x, y, rotation: (rotDeg * Math.PI) / 180,
    style: { text, fill: color, fontSize: 9.6, fontWeight: "bold", fontFamily: TICK_FONT, align, verticalAlign: "middle" },
  });
  graphic.push(ann("Amp. step = 100", COL.red, 298, 419, "right"));
  graphic.push(ann("Amp. step = 50", COL.salmon, 298, 433.3, "right"));
  graphic.push(ann("Amp. step = 30", COL.orange, 298, 453.3, "right"));
  graphic.push(ann("Amp. step = 20", COL.gold, 298, 471.7, "right"));
  graphic.push(ann("Amp. step = 10", COL.ygreen, 298, 514.3, "right"));
  graphic.push(ann("w/o Amp.", COL.green, 297, 630, "right"));
  // panel d (rotated)
  graphic.push(ann("Amp. step = 500", COL.red, 560.3, 453.3, "center", 31));
  graphic.push(ann("Amp. step = 200", COL.salmon, 560.7, 486.7, "center", 31));
  graphic.push(ann("Amp. step = 50", COL.orange, 563.7, 540, "center", 29));
  graphic.push(ann("Amp. step = 20", COL.gold, 560.3, 569.3, "center", 22));
  graphic.push(ann("Amp. step = 10", COL.ygreen, 558.7, 596.7, "center", 14));
  graphic.push(ann("w/o Amp.", COL.green, 574.7, 651.7, "center"));

  return {
    animation: false,
    backgroundColor: "#ffffff",
    grid, xAxis, yAxis, series, graphic,
  };
}

export default function App() {
  const ref = useRef<HTMLDivElement>(null);
  useEffect(() => {
    if (!ref.current) return;
    const chart = echarts.init(ref.current, undefined, { renderer: "svg" });
    chart.setOption(buildOption() as any);
    return () => chart.dispose();
  }, []);
  return (
    <div
      ref={ref}
      style={{ position: "absolute", left: 0, top: 0, width: 626, height: 767, background: "#fff" }}
    />
  );
}
